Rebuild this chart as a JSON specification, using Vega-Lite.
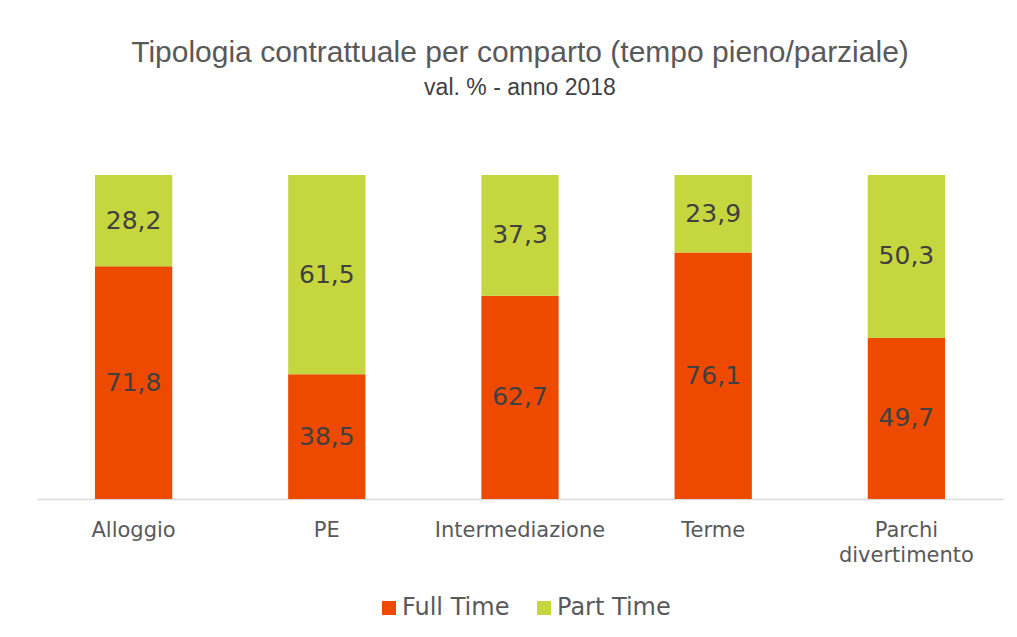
{
  "$schema": "https://vega.github.io/schema/vega-lite/v6.json",
  "width": 966,
  "height": 324,
  "autosize": {"type": "none"},
  "padding": {"left": 37, "top": 175, "right": 14, "bottom": 138},
  "background": "white",
  "config": {
    "view": {"stroke": null},
    "font": "DejaVu Sans",
    "locale": {"number": {"decimal": ",", "thousands": ".", "grouping": [3], "currency": ["€", ""]}}
  },
  "title": {
    "text": "Tipologia contrattuale per comparto (tempo pieno/parziale)",
    "subtitle": "val. % - anno 2018",
    "font": "Liberation Sans",
    "fontSize": 30,
    "fontWeight": "normal",
    "color": "#595959",
    "subtitleFont": "Liberation Sans",
    "subtitleFontSize": 23,
    "subtitleColor": "#404040",
    "subtitlePadding": 9,
    "anchor": "middle",
    "offset": 75
  },
  "data": {
    "values": [
      {"comparto": "Alloggio", "tipo": "Full Time", "valore": 71.8},
      {"comparto": "Alloggio", "tipo": "Part Time", "valore": 28.2},
      {"comparto": "PE", "tipo": "Full Time", "valore": 38.5},
      {"comparto": "PE", "tipo": "Part Time", "valore": 61.5},
      {"comparto": "Intermediazione", "tipo": "Full Time", "valore": 62.7},
      {"comparto": "Intermediazione", "tipo": "Part Time", "valore": 37.3},
      {"comparto": "Terme", "tipo": "Full Time", "valore": 76.1},
      {"comparto": "Terme", "tipo": "Part Time", "valore": 23.9},
      {"comparto": "Parchi divertimento", "tipo": "Full Time", "valore": 49.7},
      {"comparto": "Parchi divertimento", "tipo": "Part Time", "valore": 50.3}
    ]
  },
  "encoding": {
    "x": {
      "field": "comparto",
      "type": "nominal",
      "sort": null,
      "scale": {"paddingInner": 0.6, "paddingOuter": 0.3},
      "axis": {
        "title": null,
        "labelAngle": 0,
        "labelFontSize": 21,
        "labelColor": "#595959",
        "labelPadding": 20,
        "labelLineHeight": 25,
        "labelExpr": "datum.label == 'Parchi divertimento' ? ['Parchi', 'divertimento'] : datum.label",
        "ticks": false,
        "domainColor": "#d9d9d9",
        "domainWidth": 1.5
      }
    },
    "y": {
      "field": "valore",
      "type": "quantitative",
      "stack": "zero",
      "scale": {"domain": [0, 100]},
      "axis": null
    },
    "order": {"field": "tipo", "sort": "ascending"}
  },
  "layer": [
    {
      "mark": {"type": "bar"},
      "encoding": {
        "color": {
          "field": "tipo",
          "type": "nominal",
          "scale": {"domain": ["Full Time", "Part Time"], "range": ["#ED4A00", "#C5D63F"]},
          "legend": {
            "title": null,
            "orient": "none",
            "legendX": 340,
            "legendY": 421,
            "direction": "horizontal",
            "symbolType": "square",
            "symbolSize": 196,
            "symbolStrokeWidth": 0,
            "labelFontSize": 24,
            "labelColor": "#595959",
            "labelOffset": 1,
            "columnPadding": 22
          }
        }
      }
    },
    {
      "mark": {"type": "text", "fontSize": 25, "color": "#404040"},
      "encoding": {
        "y": {"field": "valore", "type": "quantitative", "stack": "zero", "bandPosition": 0.5},
        "detail": {"field": "tipo"},
        "text": {"field": "valore", "type": "quantitative", "format": ".1f"}
      }
    }
  ]
}
